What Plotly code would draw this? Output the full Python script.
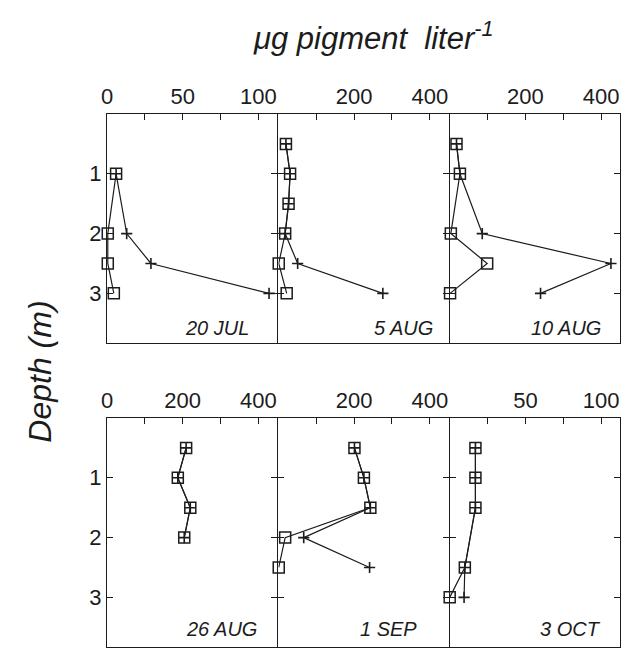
import plotly.graph_objects as go

# ---------------- data ----------------
dates = ["20 JUL", "5 AUG", "10 AUG", "26 AUG", "1 SEP", "3 OCT"]
depth_ticks = [1, 2, 3]

# square-symbol series (depth m, value ug/l)
jul20_sq_depth = [1, 2, 2.5, 3]
jul20_sq_val = [6, 0.5, 0.5, 4.5]
aug05_sq_depth = [0.5, 1, 1.5, 2, 2.5, 3]
aug05_sq_val = [20, 31, 27, 18, 1, 22]
aug10_sq_depth = [0.5, 1, 2, 2.5, 3]
aug10_sq_val = [18, 27, 3, 99, 1]
aug26_sq_depth = [0.5, 1, 1.5, 2]
aug26_sq_val = [209, 187, 220, 204]
sep01_sq_depth = [0.5, 1, 1.5, 2, 2.5]
sep01_sq_val = [201, 226, 243, 18, 1]
oct03_sq_depth = [0.5, 1, 1.5, 2.5, 3]
oct03_sq_val = [17, 17, 17, 10, 0]

# plus-symbol series
jul20_pl_depth = [1, 2, 2.5, 3]
jul20_pl_val = [6, 13, 29, 107]
aug05_pl_depth = [0.5, 1, 1.5, 2, 2.5, 3]
aug05_pl_val = [20, 31, 27, 18, 51, 276]
aug10_pl_depth = [0.5, 1, 2, 2.5, 3]
aug10_pl_val = [18, 27, 86, 426, 240]
aug26_pl_depth = [0.5, 1, 1.5, 2]
aug26_pl_val = [209, 187, 220, 204]
sep01_pl_depth = [0.5, 1, 1.5, 2, 2.5]
sep01_pl_val = [201, 226, 243, 67, 241]
oct03_pl_depth = [0.5, 1, 1.5, 2.5, 3]
oct03_pl_val = [17, 17, 17, 10, 9.5]

# labelled (major) ticks and unlabelled (minor) ticks per panel
major_ticks = [[0, 50, 100], [200, 400], [200, 400],
               [0, 200, 400], [200, 400], [50, 100]]
minor_small = [25, 75]
minor_large = [100, 300]
scale_small = [True, False, False, False, False, True]

sq_series = [
    (jul20_sq_val, jul20_sq_depth), (aug05_sq_val, aug05_sq_depth),
    (aug10_sq_val, aug10_sq_depth), (aug26_sq_val, aug26_sq_depth),
    (sep01_sq_val, sep01_sq_depth), (oct03_sq_val, oct03_sq_depth),
]
pl_series = [
    (jul20_pl_val, jul20_pl_depth), (aug05_pl_val, aug05_pl_depth),
    (aug10_pl_val, aug10_pl_depth), (aug26_pl_val, aug26_pl_depth),
    (sep01_pl_val, sep01_pl_depth), (oct03_pl_val, oct03_pl_depth),
]

# ---------------- layout geometry ----------------
W, H = 624, 649
NARROW = "Liberation Sans Narrow, Liberation Sans, Arial, sans-serif"
SANS = "Liberation Sans, Arial, sans-serif"
INK = "#1c1c1c"
left0, pw = 102, 172
rows_px = [(114, 343), (418, 647)]
label_right = [247, 433, 603, 255, 417, 603]
label_y = [328, 328, 328, 629, 629, 629]

fig = go.Figure()
layout = dict(
    width=W, height=H, margin=dict(l=0, r=0, t=0, b=0),
    paper_bgcolor="white", plot_bgcolor="white", showlegend=False,
    font=dict(family=SANS, color=INK),
)
annotations = []

for i in range(6):
    r, c = divmod(i, 3)
    n = "" if i == 0 else str(i + 1)
    x0 = (left0 + c * (pw + 1)) / W
    x1 = (left0 + c * (pw + 1) + pw) / W
    ytop, ybot = rows_px[r]
    y0 = 1 - ybot / H
    y1 = 1 - ytop / H
    small = scale_small[i]
    layout["xaxis" + n] = dict(
        domain=[x0, x1], anchor="y" + n, side="top",
        range=[0, 112.5] if small else [0, 450],
        tickvals=major_ticks[i],
        ticktext=[str(v) for v in major_ticks[i]],
        ticks="inside", ticklen=6, tickwidth=1.1, tickcolor=INK,
        minor=dict(tickvals=minor_small if small else minor_large,
                   ticks="inside", ticklen=6, tickwidth=1.1, tickcolor=INK,
                   showgrid=False),
        showline=True, linecolor=INK, linewidth=1.0, mirror=True,
        showgrid=False, zeroline=False,
        tickfont=dict(family=SANS, size=22, color=INK),
    )
    layout["yaxis" + n] = dict(
        domain=[y0, y1], anchor="x" + n,
        range=[3.83, 0], tickvals=depth_ticks,
        ticktext=[str(d) for d in depth_ticks],
        showticklabels=(c == 0),
        ticks="inside", ticklen=6, tickwidth=1.1, tickcolor=INK,
        showline=True, linecolor=INK, linewidth=1.0, mirror="ticks",
        showgrid=False, zeroline=False,
        tickfont=dict(family=SANS, size=22, color=INK),
    )
    sx, sy = sq_series[i]
    px, py = pl_series[i]
    fig.add_trace(go.Scatter(
        x=px, y=py, xaxis="x" + n, yaxis="y" + n, mode="lines+markers",
        line=dict(color=INK, width=1.2), cliponaxis=False,
        marker=dict(symbol="cross-thin-open", size=8, color=INK,
                    line=dict(color=INK, width=1.6)),
    ))
    fig.add_trace(go.Scatter(
        x=sx, y=sy, xaxis="x" + n, yaxis="y" + n, mode="lines+markers",
        line=dict(color=INK, width=1.2), cliponaxis=False,
        marker=dict(symbol="square-open", size=11, color=INK,
                    line=dict(color=INK, width=1.5)),
    ))
    annotations.append(dict(
        text="<i>" + dates[i] + "</i>", xref="paper", yref="paper",
        x=label_right[i] / W, y=1 - label_y[i] / H,
        xanchor="right", yanchor="middle", showarrow=False,
        font=dict(family=NARROW, size=20, color=INK),
    ))

annotations.append(dict(
    text="<i>μg pigment  liter<sup>-1</sup></i>", xref="paper", yref="paper",
    x=371 / W, y=1 - 36 / H, xanchor="center", yanchor="middle",
    showarrow=False, font=dict(family=SANS, size=31, color=INK),
))
annotations.append(dict(
    text="<i>Depth (m)</i>", xref="paper", yref="paper",
    x=34 / W, y=1 - 372 / H, xanchor="center", yanchor="middle",
    textangle=-90, showarrow=False,
    font=dict(family=SANS, size=32, color=INK),
))
layout["annotations"] = annotations
fig.update_layout(**layout)
fig.write_html("out.html")
